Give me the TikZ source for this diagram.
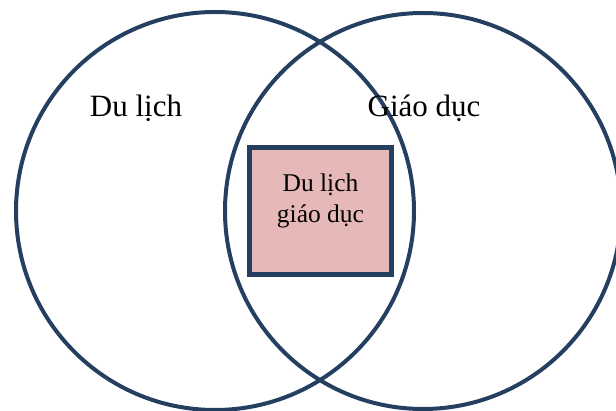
\documentclass[tikz,border=0pt]{standalone}
\usepackage{fontspec}
\setmainfont{Liberation Serif}
\definecolor{navy}{RGB}{36,63,96}
\definecolor{pinkfill}{RGB}{230,184,183}
\tikzset{
  setcircle/.style={circle, draw=navy, line width=4pt, inner sep=0pt, minimum size=#1},
  biglabel/.style={anchor=base, inner sep=0pt, font=\fontsize{31}{36}\selectfont},
  smalllabel/.style={anchor=base, inner sep=0pt, font=\fontsize{25.5}{31}\selectfont},
  overlapbox/.style={draw=navy, fill=pinkfill, line width=5pt, inner sep=0pt}
}
\begin{document}
\begin{tikzpicture}[x=1pt,y=-1pt]
\useasboundingbox (0,0) rectangle (616,411);
\node[setcircle=398pt] (tour) at (215,211) {};
\node[setcircle=396pt] (edu) at (423,211) {};
\node[overlapbox, minimum width=142pt, minimum height=127pt] (box) at (320.5,211) {};
\node[biglabel] (tourlabel) at (136,117) {Du lịch};
\node[biglabel] (edulabel) at (424,117) {Giáo dục};
\node[smalllabel] (boxline1) at (320.5,192) {Du lịch};
\node[smalllabel] (boxline2) at (320.5,223) {giáo dục};
\end{tikzpicture}
\end{document}
